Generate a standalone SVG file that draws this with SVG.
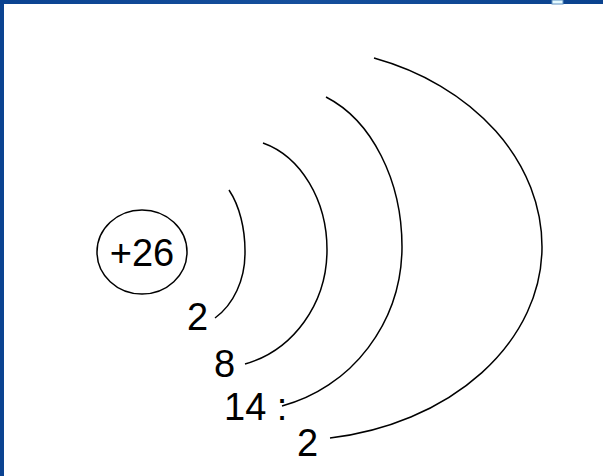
<svg xmlns="http://www.w3.org/2000/svg" width="603" height="476" viewBox="0 0 603 476">
  <style>
    .shell { fill: none; stroke: #000; stroke-width: 1.5; }
    .lbl { font-family: "Liberation Sans", Arial, sans-serif; font-size: 38px; fill: #000; }
  </style>
  <defs>
    <linearGradient id="blue" x1="0" y1="0" x2="1" y2="0">
      <stop offset="0" stop-color="#0b4391"/>
      <stop offset="0.5" stop-color="#154f9c"/>
      <stop offset="1" stop-color="#0a428e"/>
    </linearGradient>
  </defs>
  <rect x="0" y="0" width="603" height="476" fill="#ffffff"/>
  <rect x="0" y="0" width="603" height="4" fill="url(#blue)"/>
  <rect x="0" y="0" width="4" height="476" fill="#0b4391"/>
  <rect x="552" y="0" width="11" height="4" fill="#e4faff" stroke="#5f8fc0" stroke-width="1"/>

  <g id="nucleus">
    <ellipse cx="142" cy="252" rx="45" ry="42" class="shell"/>
    <text class="lbl" x="142" y="266" text-anchor="middle">+26</text>
  </g>

  <g id="connectors">
    <path class="shell" d="M229 190 A45 80 0 0 1 245 253 A60 75 0 0 1 215 318"/>
    <path class="shell" d="M263 143 A88 111 0 0 1 327 250 A110 118 0 0 1 245 364"/>
    <path class="shell" d="M326 97 A117 160 0 0 1 402 247 A160 165 0 0 1 282 406"/>
    <path class="shell" d="M374 58 A250 200 0 0 1 542 247 A250 193.5 0 0 1 330 438"/>
  </g>

  <g id="shell1"><text class="lbl" x="187" y="330">2</text></g>
  <g id="shell2"><text class="lbl" x="214" y="377">8</text></g>
  <g id="shell3"><text class="lbl" x="224" y="420">14 :</text></g>
  <g id="shell4"><text class="lbl" x="297" y="456">2</text></g>
</svg>
